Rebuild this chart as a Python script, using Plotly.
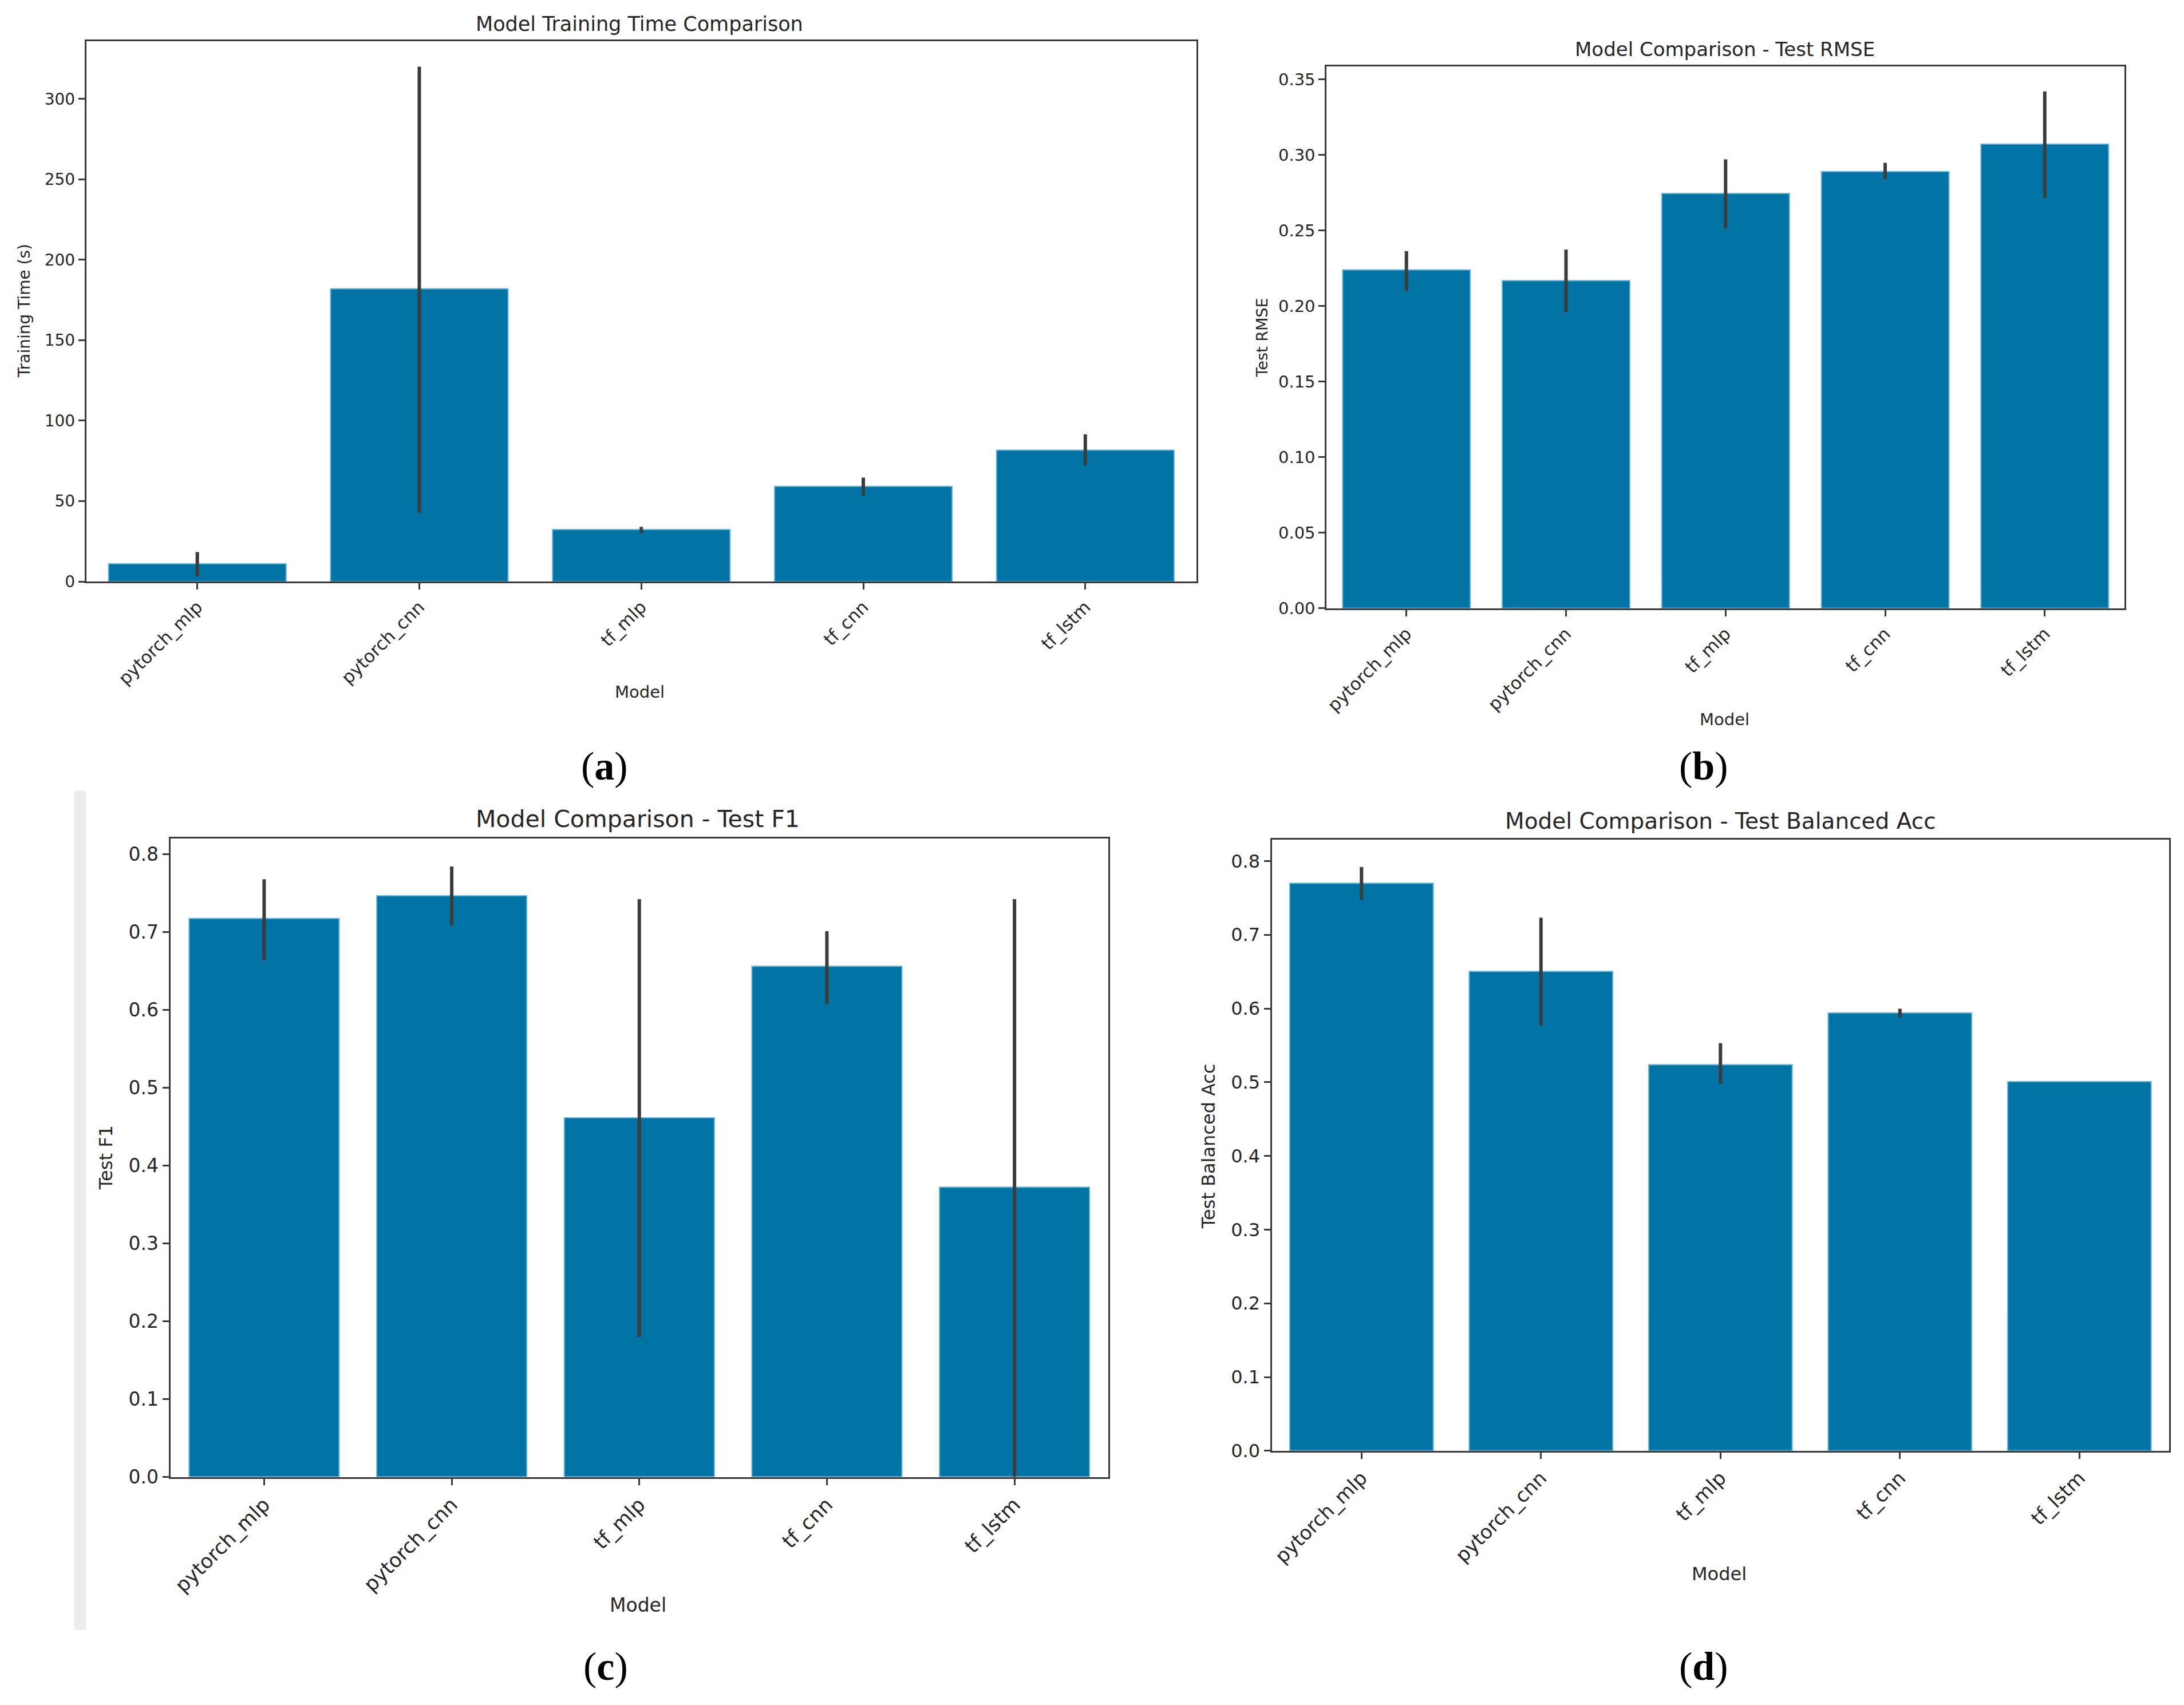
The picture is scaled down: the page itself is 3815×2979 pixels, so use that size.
import plotly.graph_objects as go

W, H = 3815, 2979

models = ["pytorch_mlp", "pytorch_cnn", "tf_mlp", "tf_cnn", "tf_lstm"]

# (a) training time in seconds, with the error bar ends
train_time = [11.1, 182.0, 32.3, 59.2, 81.7]
train_time_lo = [3.2, 42.8, 30.0, 53.2, 72.2]
train_time_hi = [18.4, 320.0, 34.0, 64.6, 91.5]

# (b) test RMSE
rmse = [0.2239, 0.2168, 0.2744, 0.2889, 0.3071]
rmse_lo = [0.2100, 0.1959, 0.2512, 0.2839, 0.2714]
rmse_hi = [0.2363, 0.2373, 0.2970, 0.2947, 0.3419]

# (c) test F1
f1 = [0.7176, 0.7468, 0.4614, 0.6562, 0.3723]
f1_lo = [0.6637, 0.7086, 0.1798, 0.6075, 0.0]
f1_hi = [0.7678, 0.7843, 0.7423, 0.7011, 0.7423]

# (d) test balanced accuracy
bal_acc = [0.7698, 0.6503, 0.5237, 0.5941, 0.5008]
bal_acc_lo = [0.7476, 0.5767, 0.4976, 0.5878, 0.5008]
bal_acc_hi = [0.7919, 0.7231, 0.5530, 0.5997, 0.5008]

BAR = "#0173a5"
ERR = "#3c3c3c"
SPINE = "#3a3a3a"
TXT = "#262626"
FONT = "DejaVu Sans"


def px_x(p):
    return p / W


def px_y(p):
    return 1 - p / H


# panel boxes in pixels: left, right, top, bottom
panels = [
    dict(box=(145, 2087, 72, 1023), vals=train_time, lo=train_time_lo, hi=train_time_hi,
         yrange=[0, 336], dtick=50, fmt="d", tick=28, xtick=31,
         title="Model Training Time Comparison", tsize=35, tpos=(1113, 42),
         ytitle="Training Time (s)", ysize=28, ypos=(36, 547),
         xsize=29, xpos=(1113, 1217), label="a", lpos=(1052, 1348)),
    dict(box=(2315, 3711, 117, 1070), vals=rmse, lo=rmse_lo, hi=rmse_hi,
         yrange=[0, 0.3584], dtick=0.05, fmt=".2f", tick=29, xtick=31,
         title="Model Comparison - Test RMSE", tsize=34, tpos=(3012, 87),
         ytitle="Test RMSE", ysize=27, ypos=(2201, 594),
         xsize=29, xpos=(3011, 1265), label="b", lpos=(2975, 1348)),
    dict(box=(292, 1933, 1475, 2598), vals=f1, lo=f1_lo, hi=f1_hi,
         yrange=[0, 0.8202], dtick=0.1, fmt=".1f", tick=33, xtick=35,
         title="Model Comparison - Test F1", tsize=41, tpos=(1110, 1441),
         ytitle="Test F1", ysize=32, ypos=(180, 2036),
         xsize=33, xpos=(1110, 2823), label="c", lpos=(1054, 2931)),
    dict(box=(2219, 3789, 1477, 2552), vals=bal_acc, lo=bal_acc_lo, hi=bal_acc_hi,
         yrange=[0, 0.829], dtick=0.1, fmt=".1f", tick=32, xtick=34,
         title="Model Comparison - Test Balanced Acc", tsize=39, tpos=(3004, 1444),
         ytitle="Test Balanced Acc", ysize=32, ypos=(2109, 2016),
         xsize=32, xpos=(3002, 2769), label="d", lpos=(2975, 2931)),
]

fig = go.Figure()
annotations = []
layout_axes = {}

for i, p in enumerate(panels, start=1):
    sfx = "" if i == 1 else str(i)
    left, right, top, bottom = p["box"]

    fig.add_trace(go.Bar(
        x=models,
        y=p["vals"],
        xaxis="x" + sfx,
        yaxis="y" + sfx,
        marker=dict(color=BAR, line=dict(color="#6fb6d8", width=2)),
        error_y=dict(
            type="data",
            array=[h - v for h, v in zip(p["hi"], p["vals"])],
            arrayminus=[v - l for v, l in zip(p["vals"], p["lo"])],
            color=ERR, thickness=6, width=0,
        ),
        showlegend=False,
        hoverinfo="skip",
    ))

    layout_axes["xaxis" + sfx] = dict(
        domain=[px_x(left), px_x(right)],
        anchor="y" + sfx,
        range=[-0.5, 4.5],
        tickangle=-45,
        ticks="outside", ticklen=11, tickwidth=3, tickcolor=SPINE,
        tickfont=dict(family=FONT, size=p["xtick"], color=TXT),
        showline=True, linecolor=SPINE, linewidth=3, mirror=True,
        showgrid=False, zeroline=False,
    )
    layout_axes["yaxis" + sfx] = dict(
        domain=[px_y(bottom), px_y(top)],
        anchor="x" + sfx,
        range=p["yrange"],
        dtick=p["dtick"],
        tickformat=p["fmt"],
        ticks="outside", ticklen=11, tickwidth=3, tickcolor=SPINE,
        tickfont=dict(family=FONT, size=p["tick"], color=TXT),
        showline=True, linecolor=SPINE, linewidth=3, mirror=True,
        showgrid=False, zeroline=False,
    )

    annotations += [
        dict(text=p["title"], x=px_x(p["tpos"][0]), y=px_y(p["tpos"][1]),
             font=dict(family=FONT, size=p["tsize"], color=TXT)),
        dict(text=p["ytitle"], x=px_x(p["ypos"][0]), y=px_y(p["ypos"][1]), textangle=-90,
             font=dict(family=FONT, size=p["ysize"], color=TXT)),
        dict(text="Model", x=px_x(p["xpos"][0]), y=px_y(p["xpos"][1]),
             font=dict(family=FONT, size=p["xsize"], color=TXT)),
        dict(text="(<b>" + p["label"] + "</b>)", x=px_x(p["lpos"][0]), y=px_y(p["lpos"][1]),
             font=dict(family="Liberation Serif", size=70, color="#000000")),
    ]

for a in annotations:
    a.update(xref="paper", yref="paper", showarrow=False, xanchor="center", yanchor="middle")

fig.update_layout(
    width=W, height=H,
    margin=dict(l=0, r=0, t=0, b=0),
    paper_bgcolor="white",
    plot_bgcolor="white",
    annotations=annotations,
    # light grey strip left of panel (c), part of the original screenshot
    shapes=[dict(type="rect", xref="paper", yref="paper",
                 x0=px_x(124), x1=px_x(145), y0=px_y(2867), y1=px_y(1391),
                 fillcolor="#ececec", line=dict(width=0), layer="below")],
    **layout_axes,
)

fig.write_html("out.html", config={"displayModeBar": False},
               post_script="document.body.style.margin='0';")
